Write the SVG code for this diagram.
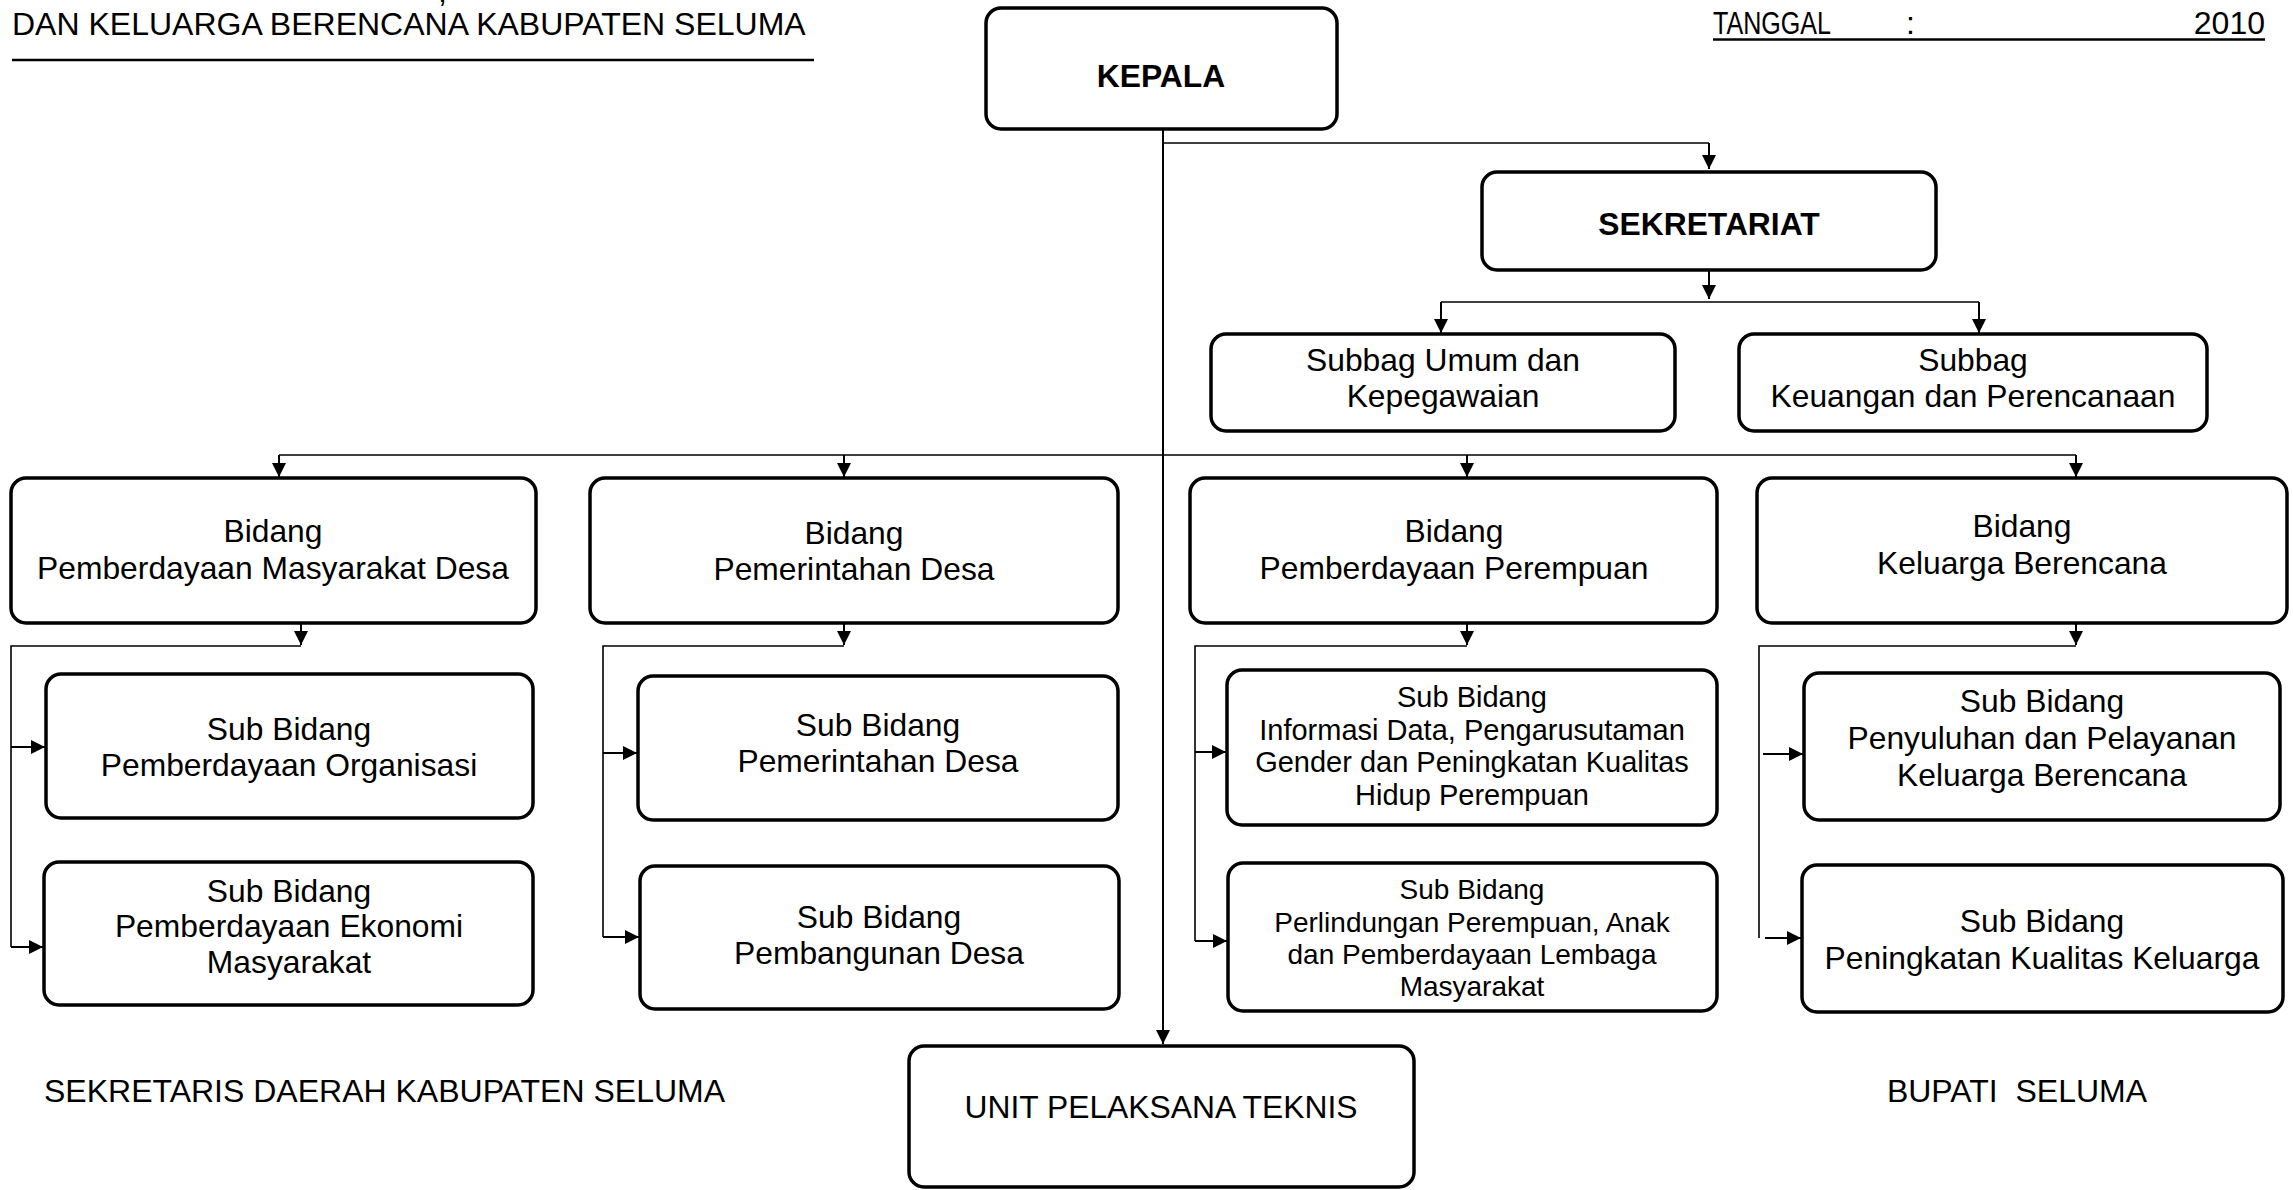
<svg xmlns="http://www.w3.org/2000/svg" width="2293" height="1190" viewBox="0 0 2293 1190">
  <style>
    .box { fill: #fff; stroke: #000; stroke-width: 3.5; }
    .t { font-family: "Liberation Sans", Arial, sans-serif; font-size: 31.8px; fill: #000; text-anchor: middle; }
    .b { font-weight: bold; }
    .s29 { font-size: 29px; }
    .s28 { font-size: 28px; }
    .hdr { font-family: "Liberation Sans", Arial, sans-serif; font-size: 32px; fill: #000; }
    .ln { fill: none; stroke: #000; stroke-width: 1.6; }
    .ar { fill: none; stroke: #000; stroke-width: 2; marker-end: url(#ah); }
  </style>
  <defs>
    <marker id="ah" viewBox="0 0 14 14" refX="14" refY="7" markerWidth="14" markerHeight="14" markerUnits="userSpaceOnUse" orient="auto">
      <path d="M0,0 L14,7 L0,14 z" fill="#000"/>
    </marker>
  </defs>
  <rect width="2293" height="1190" fill="#fff"/>

  <!-- page header -->
  <g id="header">
    <text class="hdr" x="438" y="2">,</text>
    <text class="hdr" x="12" y="35">DAN KELUARGA BERENCANA KABUPATEN SELUMA</text>
    <line x1="12" y1="60" x2="814" y2="60" stroke="#000" stroke-width="2.5"/>
    <text class="hdr" x="1713" y="34" textLength="118" lengthAdjust="spacingAndGlyphs">TANGGAL</text>
    <text class="hdr" x="1906" y="34">:</text>
    <text class="hdr" x="2265" y="34" text-anchor="end">2010</text>
    <line x1="1713" y1="39.5" x2="2265" y2="39.5" stroke="#000" stroke-width="2.5"/>
  </g>

  <!-- connectors -->
  <g id="connectors">
    <!-- Kepala trunk to UPT -->
    <path class="ar" d="M1163,129 V1044"/>
    <!-- Kepala to Sekretariat -->
    <path class="ln" d="M1163,143 H1709"/>
    <path class="ar" d="M1709,143 V169"/>
    <!-- Sekretariat to subbag -->
    <path class="ar" d="M1709,270 V299"/>
    <path class="ln" d="M1441,302 H1979"/>
    <path class="ar" d="M1441,302 V333"/>
    <path class="ar" d="M1979,302 V333"/>
    <!-- bidang bus -->
    <path class="ln" d="M279,455 H2076"/>
    <path class="ar" d="M279,455 V477"/>
    <path class="ar" d="M844,455 V477"/>
    <path class="ar" d="M1467,455 V477"/>
    <path class="ar" d="M2076,455 V477"/>
    <!-- bidang 1 subs -->
    <path class="ar" d="M301,623 V645"/>
    <path class="ln" d="M301,646 H11 V947"/>
    <path class="ar" d="M11,747 H45"/>
    <path class="ar" d="M11,947 H43"/>
    <!-- bidang 2 subs -->
    <path class="ar" d="M844,623 V645"/>
    <path class="ln" d="M844,646 H603 V937"/>
    <path class="ar" d="M603,753 H637"/>
    <path class="ar" d="M603,937 H639"/>
    <!-- bidang 3 subs -->
    <path class="ar" d="M1467,623 V645"/>
    <path class="ln" d="M1467,646 H1195 V941"/>
    <path class="ar" d="M1195,752 H1226"/>
    <path class="ar" d="M1195,941 H1227"/>
    <!-- bidang 4 subs -->
    <path class="ar" d="M2076,623 V645"/>
    <path class="ln" d="M2076,646 H1759 V938"/>
    <path class="ar" d="M1763,754 H1803"/>
    <path class="ar" d="M1765,938 H1801"/>
  </g>

  <g id="kepala">
    <rect class="box" x="986" y="8" width="351" height="121" rx="15"/>
    <text class="t b" x="1161" y="87">KEPALA</text>
  </g>
  <g id="sekretariat">
    <rect class="box" x="1482" y="172" width="454" height="98" rx="15"/>
    <text class="t b" x="1709" y="235">SEKRETARIAT</text>
  </g>
  <g id="subbag-umum">
    <rect class="box" x="1211" y="334" width="464" height="97" rx="15"/>
    <text class="t" x="1443" y="371">Subbag Umum dan</text>
    <text class="t" x="1443" y="407">Kepegawaian</text>
  </g>
  <g id="subbag-keuangan">
    <rect class="box" x="1739" y="334" width="468" height="97" rx="15"/>
    <text class="t" x="1973" y="371">Subbag</text>
    <text class="t" x="1973" y="407">Keuangan dan Perencanaan</text>
  </g>

  <g id="bidang-pmd">
    <rect class="box" x="11" y="478" width="525" height="145" rx="15"/>
    <text class="t" x="273" y="542">Bidang</text>
    <text class="t" x="273" y="579">Pemberdayaan Masyarakat Desa</text>
  </g>
  <g id="bidang-pemdes">
    <rect class="box" x="590" y="478" width="528" height="145" rx="15"/>
    <text class="t" x="854" y="544">Bidang</text>
    <text class="t" x="854" y="580">Pemerintahan Desa</text>
  </g>
  <g id="bidang-pp">
    <rect class="box" x="1190" y="478" width="527" height="145" rx="15"/>
    <text class="t" x="1454" y="542">Bidang</text>
    <text class="t" x="1454" y="579">Pemberdayaan Perempuan</text>
  </g>
  <g id="bidang-kb">
    <rect class="box" x="1757" y="478" width="530" height="145" rx="15"/>
    <text class="t" x="2022" y="537">Bidang</text>
    <text class="t" x="2022" y="574">Keluarga Berencana</text>
  </g>

  <g id="sub-organisasi">
    <rect class="box" x="46" y="674" width="487" height="144" rx="15"/>
    <text class="t" x="289" y="740">Sub Bidang</text>
    <text class="t" x="289" y="776">Pemberdayaan Organisasi</text>
  </g>
  <g id="sub-ekonomi">
    <rect class="box" x="44" y="862" width="489" height="143" rx="15"/>
    <text class="t" x="289" y="902">Sub Bidang</text>
    <text class="t" x="289" y="937">Pemberdayaan Ekonomi</text>
    <text class="t" x="289" y="973">Masyarakat</text>
  </g>
  <g id="sub-pemdes">
    <rect class="box" x="638" y="676" width="480" height="144" rx="15"/>
    <text class="t" x="878" y="736">Sub Bidang</text>
    <text class="t" x="878" y="772">Pemerintahan Desa</text>
  </g>
  <g id="sub-pembangunan">
    <rect class="box" x="640" y="866" width="479" height="143" rx="15"/>
    <text class="t" x="879" y="928">Sub Bidang</text>
    <text class="t" x="879" y="964">Pembangunan Desa</text>
  </g>
  <g id="sub-informasi">
    <rect class="box" x="1227" y="670" width="490" height="155" rx="15"/>
    <text class="t s29" x="1472" y="707">Sub Bidang</text>
    <text class="t s29" x="1472" y="740">Informasi Data, Pengarusutaman</text>
    <text class="t s29" x="1472" y="772">Gender dan Peningkatan Kualitas</text>
    <text class="t s29" x="1472" y="805">Hidup Perempuan</text>
  </g>
  <g id="sub-perlindungan">
    <rect class="box" x="1228" y="863" width="489" height="148" rx="15"/>
    <text class="t s28" x="1472" y="899">Sub Bidang</text>
    <text class="t s28" x="1472" y="932">Perlindungan Perempuan, Anak</text>
    <text class="t s28" x="1472" y="964">dan Pemberdayaan Lembaga</text>
    <text class="t s28" x="1472" y="996">Masyarakat</text>
  </g>
  <g id="sub-penyuluhan">
    <rect class="box" x="1804" y="673" width="476" height="147" rx="15"/>
    <text class="t" x="2042" y="712">Sub Bidang</text>
    <text class="t" x="2042" y="749">Penyuluhan dan Pelayanan</text>
    <text class="t" x="2042" y="786">Keluarga Berencana</text>
  </g>
  <g id="sub-kualitas">
    <rect class="box" x="1802" y="865" width="481" height="147" rx="15"/>
    <text class="t" x="2042" y="932">Sub Bidang</text>
    <text class="t" x="2042" y="969">Peningkatan Kualitas Keluarga</text>
  </g>

  <g id="upt">
    <rect class="box" x="909" y="1046" width="505" height="141" rx="15"/>
    <text class="t" x="1161" y="1118">UNIT PELAKSANA TEKNIS</text>
  </g>

  <!-- signature lines -->
  <g id="footer">
    <text class="hdr" x="44" y="1102">SEKRETARIS DAERAH KABUPATEN SELUMA</text>
    <text class="hdr" x="2017" y="1102" text-anchor="middle" xml:space="preserve">BUPATI  SELUMA</text>
  </g>
</svg>
